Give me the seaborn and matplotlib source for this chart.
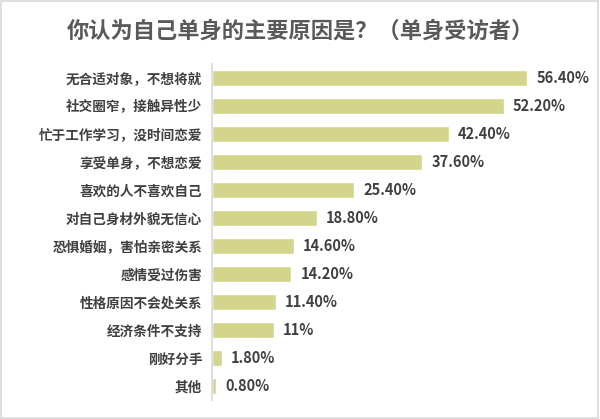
import matplotlib
matplotlib.use("Agg")
import matplotlib.pyplot as plt
import seaborn as sns
import pandas as pd
from matplotlib.patches import Rectangle

categories = ["无合适对象，不想将就", "社交圈窄，接触异性少", "忙于工作学习，没时间恋爱",
              "享受单身，不想恋爱", "喜欢的人不喜欢自己", "对自己身材外貌无信心",
              "恐惧婚姻，害怕亲密关系", "感情受过伤害", "性格原因不会处关系",
              "经济条件不支持", "刚好分手", "其他"]
values = [56.4, 52.2, 42.4, 37.6, 25.4, 18.8, 14.6, 14.2, 11.4, 11.0, 1.8, 0.8]
value_labels = ["56.40%", "52.20%", "42.40%", "37.60%", "25.40%", "18.80%",
                "14.60%", "14.20%", "11.40%", "11%", "1.80%", "0.80%"]
title = "你认为自己单身的主要原因是？（单身受访者）"

sns.set_theme(style="white")
plt.rcParams['font.family'] = ['Noto Sans CJK SC', 'DejaVu Sans']

df = pd.DataFrame({"cat": categories, "val": values})

fig = plt.figure(figsize=(6, 4.19), dpi=100)
ax = fig.add_axes([212/600, 1-400/419, 378/600, 336/419])
sns.barplot(data=df, x="val", y="cat", color="#D3D58C", saturation=1, width=0.56, ax=ax)

ax.set_xlim(0, 67.6)
ax.set_xlabel("")
ax.set_ylabel("")
ax.set_xticks([])
for s in ["top", "right", "bottom"]:
    ax.spines[s].set_visible(False)
ax.spines["left"].set_color("#D9D9D9")
ax.spines["left"].set_linewidth(1.2)
ax.tick_params(axis="y", length=0, pad=7)
for t in ax.get_yticklabels():
    t.set_fontsize(9.8)
    t.set_color("#404040")
    t.set_fontweight("bold")

for i, (v, lab) in enumerate(zip(values, value_labels)):
    ax.annotate(lab, xy=(v, i), xytext=(6.5, 0), textcoords="offset points",
                ha="left", va="center", fontsize=10.5, fontweight="bold", color="#404040")

fig.text(0.5, 1-31/419, title, ha="center", va="center", fontsize=16,
         fontweight="bold", color="#595959")

fig.patches.append(Rectangle((1/600, 1.5/419), 597/600, 416/419, transform=fig.transFigure,
                             fill=False, edgecolor="#D9D9D9", linewidth=1.2))

fig.savefig("out.png", dpi=100, facecolor="white")
